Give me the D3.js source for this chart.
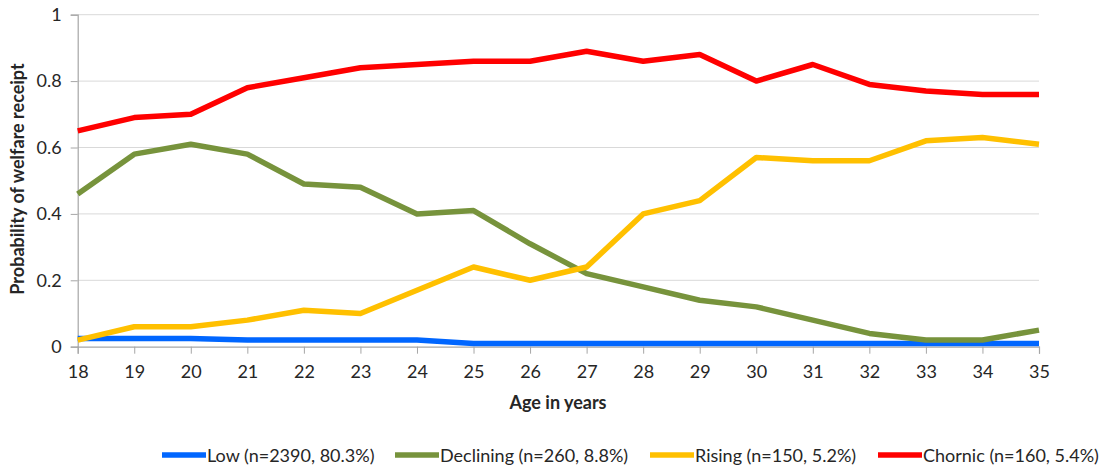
<!DOCTYPE html>
<html><head><meta charset="utf-8">
<script src="https://cdn.jsdelivr.net/npm/d3@7"></script>
<style>
html,body{margin:0;padding:0;background:#fff;}
svg{display:block;font-family:Lato, "Open Sans", sans-serif;}
</style></head>
<body>
<svg id="chart" width="1102" height="466"></svg>
<script>
const ages = [18,19,20,21,22,23,24,25,26,27,28,29,30,31,32,33,34,35];
const lowValues = [0.025,0.025,0.025,0.02,0.02,0.02,0.02,0.01,0.01,0.01,0.01,0.01,0.01,0.01,0.01,0.01,0.01,0.01];
const decliningValues = [0.46,0.58,0.61,0.58,0.49,0.48,0.40,0.41,0.31,0.22,0.18,0.14,0.12,0.08,0.04,0.02,0.02,0.05];
const risingValues = [0.02,0.06,0.06,0.08,0.11,0.10,0.17,0.24,0.20,0.24,0.40,0.44,0.57,0.56,0.56,0.62,0.63,0.61];
const chronicValues = [0.65,0.69,0.70,0.78,0.81,0.84,0.85,0.86,0.86,0.89,0.86,0.88,0.80,0.85,0.79,0.77,0.76,0.76];
const seriesNames = ["Low (n=2390, 80.3%)","Declining (n=260, 8.8%)","Rising (n=150, 5.2%)","Chornic (n=160, 5.4%)"];
const seriesColors = ["#0066FF","#77933C","#FFC000","#FF0000"];
const yTicks = [0,0.2,0.4,0.6,0.8,1];
const xTitle = "Age in years";
const yTitle = "Probability of welfare receipt";

const series = [lowValues, decliningValues, risingValues, chronicValues];

const svg = d3.select("#chart");
const mLeft = 77.7, mRight = 1039, mTop = 14.7, mBottom = 346.7;
const x = d3.scalePoint().domain(ages).range([mLeft, mRight]);
const y = d3.scaleLinear().domain([0,1]).range([mBottom, mTop]);
const textColor = "#262626";

// gridlines
svg.append("g").selectAll("line").data(yTicks.filter(d=>d>0)).join("line")
  .attr("x1", mLeft).attr("x2", mRight)
  .attr("y1", d=>y(d)).attr("y2", d=>y(d))
  .attr("stroke", "#d9d9d9").attr("stroke-width", 1);

// y axis
const yAxis = svg.append("g").attr("transform", `translate(${mLeft},0)`)
  .call(d3.axisLeft(y).tickValues(yTicks).tickFormat(d=>d===0?"0":d===1?"1":d3.format(".1f")(d)).tickSize(7).tickPadding(9));
yAxis.select(".domain").attr("stroke", "#a6a6a6").attr("stroke-width", 1.2);
yAxis.selectAll(".tick line").attr("stroke", "#a6a6a6");
yAxis.selectAll(".tick text").attr("font-size", 18).attr("fill", textColor).attr("font-family","Lato, sans-serif");

// x axis
const xAxis = svg.append("g").attr("transform", `translate(0,${mBottom})`)
  .call(d3.axisBottom(x).tickSize(7).tickPadding(11.5));
xAxis.select(".domain").attr("stroke", "#a6a6a6").attr("stroke-width", 1.2);
xAxis.selectAll(".tick line").attr("stroke", "#a6a6a6");
xAxis.selectAll(".tick text").attr("font-size", 18).attr("fill", textColor).attr("font-family","Lato, sans-serif");

// lines
const line = d3.line().x((d,i)=>x(ages[i])).y(d=>y(d));
svg.append("g").selectAll("path").data(series).join("path")
  .attr("d", d=>line(d))
  .attr("fill", "none")
  .attr("stroke", (d,i)=>seriesColors[i])
  .attr("stroke-width", 5.5)
  .attr("stroke-linejoin", "round");

// titles
svg.append("text").attr("x", 558).attr("y", 409).attr("text-anchor","middle")
  .attr("font-size", 18).attr("font-weight","bold").attr("fill",textColor).text(xTitle);
svg.append("text").attr("transform", "translate(24,179) rotate(-90)").attr("text-anchor","middle")
  .attr("font-size", 18).attr("font-weight","bold").attr("fill",textColor).text(yTitle);

// legend
const legendX = [162, 395, 650, 878];
const lg = svg.append("g").selectAll("g").data(seriesNames).join("g")
  .attr("transform", (d,i)=>`translate(${legendX[i]},455)`);
lg.append("line").attr("x1",0).attr("x2",44).attr("y1",0).attr("y2",0)
  .attr("stroke",(d,i)=>seriesColors[i]).attr("stroke-width",5.5);
lg.append("text").attr("x",45).attr("y",6.5).attr("font-size",18).attr("fill",textColor).text(d=>d);
</script>
</body></html>
